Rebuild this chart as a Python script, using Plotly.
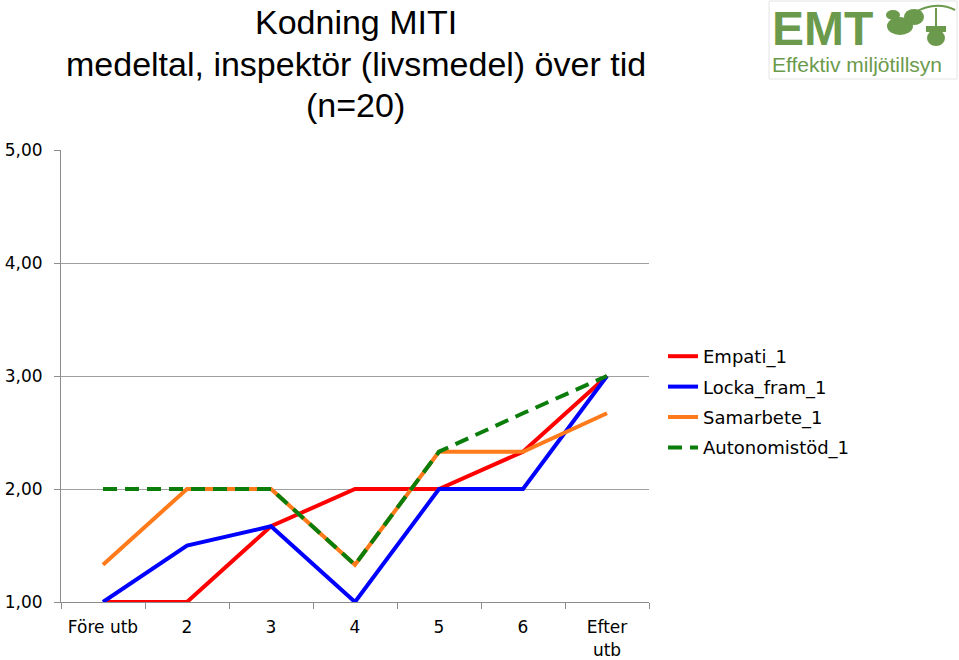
import plotly.graph_objects as go

categories = ["Före utb", "2", "3", "4", "5", "6", "Efter<br>utb"]
empati = [1.0, 1.0, 1.67, 2.0, 2.0, 2.33, 3.0]
locka_fram = [1.0, 1.5, 1.67, 1.0, 2.0, 2.0, 3.0]
samarbete = [1.33, 2.0, 2.0, 1.33, 2.33, 2.33, 2.67]
autonomistod = [2.0, 2.0, 2.0, 1.33, 2.33, 2.67, 3.0]
y_ticks = [1, 2, 3, 4, 5]
y_labels = ["1,00", "2,00", "3,00", "4,00", "5,00"]
title_lines = ["Kodning MITI", "medeltal, inspektör (livsmedel) över tid", "(n=20)"]

TFONT = "Liberation Sans, Arial, sans-serif"
LFONT = "DejaVu Sans, sans-serif"

L, R, T, B = 61, 649, 150, 602
PW, PH = R - L, B - T


def px(x):
    return (x - L) / PW


def py(y):
    return (B - y) / PH


fig = go.Figure()
series = [
    ("Empati_1", empati, "#ff0000", "solid"),
    ("Locka_fram_1", locka_fram, "#0000ff", "solid"),
    ("Samarbete_1", samarbete, "#ff7a1a", "solid"),
    ("Autonomistöd_1", autonomistod, "#0a7d0a", "14px,8px"),
]
for i, (name, vals, col, dash) in enumerate(series):
    fig.add_trace(go.Scatter(
        x=categories, y=vals, name=name, mode="lines", legendgroup=f"g{i}",
        line=dict(color=col, width=4, dash=dash),
    ))

fig.update_layout(
    width=959, height=660,
    margin=dict(l=L, r=959 - R, t=T, b=660 - B),
    paper_bgcolor="white", plot_bgcolor="white",
    font=dict(family=LFONT, color="black", size=18),
    showlegend=True,
    legend=dict(
        x=px(663), y=py(338), xanchor="left", yanchor="top",
        font=dict(size=18, family=LFONT, color="black"), tracegroupgap=4,
        bgcolor="rgba(0,0,0,0)",
    ),
)
for i, line in enumerate(title_lines):
    fig.add_annotation(text=line, xref="paper", yref="paper",
                       x=px(356), y=py([22, 64, 105][i]),
                       xanchor="center", yanchor="middle", showarrow=False,
                       font=dict(size=34, family=TFONT, color="black"))

fig.update_xaxes(
    type="category", range=[-0.5, 6.5], automargin=False, tickangle=0,
    showline=True, linecolor="#8c8c8c", linewidth=1,
    showgrid=False, ticks="outside", tickson="boundaries",
    ticklen=6, tickcolor="#8c8c8c", ticklabelstandoff=10,
    tickfont=dict(size=17, family=LFONT, color="black"),
)
fig.update_yaxes(
    range=[1, 5], tickvals=y_ticks, ticktext=y_labels, automargin=False,
    showline=True, linecolor="#8c8c8c", linewidth=1,
    showgrid=True, gridcolor="#a0a0a0", gridwidth=1,
    ticks="outside", ticklen=6, tickcolor="#8c8c8c", ticklabelstandoff=8,
    tickfont=dict(size=17, family=LFONT, color="black"), zeroline=False,
)

# Logo (EMT - Effektiv miljötillsyn)
green = "#6b9a4c"
fig.add_shape(type="rect", xref="paper", yref="paper",
              x0=px(769), x1=px(957), y0=py(79), y1=py(1),
              line=dict(color="#e4e4e4", width=1), fillcolor="white")
fig.add_annotation(text="EMT", xref="paper", yref="paper",
                   x=px(770), y=py(29),
                   xanchor="left", yanchor="middle", showarrow=False,
                   font=dict(size=48, color=green, weight="bold",
                             family="Liberation Sans Narrow, Liberation Sans, Arial"))
fig.add_annotation(text="Effektiv miljötillsyn", xref="paper", yref="paper",
                   x=px(770), y=py(64),
                   xanchor="left", yanchor="middle", showarrow=False,
                   font=dict(size=21, color=green, family=TFONT))
# leaves and acorn
for cx, cy, rx, ry in [(900, 26, 13, 9), (914, 17, 10, 8), (893, 15, 7, 5)]:
    fig.add_shape(type="circle", xref="paper", yref="paper",
                  x0=px(cx - rx), x1=px(cx + rx), y0=py(cy + ry), y1=py(cy - ry),
                  line=dict(width=0), fillcolor=green)
fig.add_shape(type="circle", xref="paper", yref="paper",
              x0=px(927), x1=px(945), y0=py(46), y1=py(30),
              line=dict(width=0), fillcolor=green)
fig.add_shape(type="rect", xref="paper", yref="paper",
              x0=px(926), x1=px(946), y0=py(32), y1=py(26),
              line=dict(width=0), fillcolor=green)
fig.add_shape(type="path", xref="paper", yref="paper",
              path=f"M {px(912)},{py(14)} Q {px(935)},{py(0)} {px(955)},{py(10)}",
              line=dict(color=green, width=2))
fig.add_shape(type="line", xref="paper", yref="paper",
              x0=px(936), x1=px(936), y0=py(26), y1=py(8),
              line=dict(color=green, width=2))

fig.write_html("out.html")
